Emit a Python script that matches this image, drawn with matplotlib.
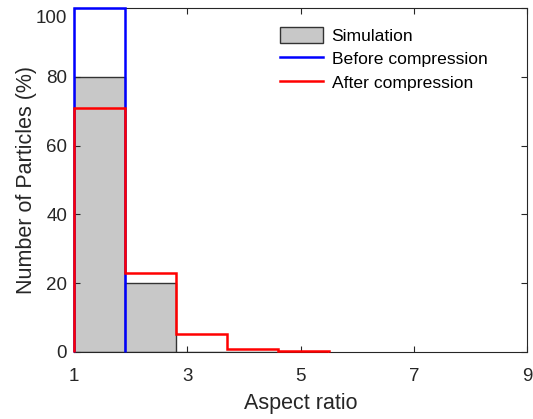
import matplotlib
matplotlib.use("Agg")
import matplotlib.pyplot as plt
import matplotlib.transforms as mtransforms
import numpy as np
from matplotlib.patches import Patch
from matplotlib.lines import Line2D

plt.rcParams['font.family'] = ['Liberation Sans', 'DejaVu Sans']

bin_edges = [1.0, 1.9, 2.8, 3.7, 4.6, 5.5]
simulation = [80.0, 20.0, 0.0, 0.0, 0.0]
before = [100.0, 0.0, 0.0, 0.0, 0.0]
after = [71.0, 23.0, 5.3, 0.8, 0.3]
xticks = [1, 3, 5, 7, 9]
yticks = [0, 20, 40, 60, 80, 100]


def trimmed(values, edges):
    vals = np.asarray(values, dtype=float)
    nz = np.nonzero(vals)[0]
    n = nz[-1] + 1 if len(nz) else len(vals)
    return vals[:n], np.asarray(edges, dtype=float)[:n + 1]


fig = plt.figure(figsize=(5.33, 4.19), dpi=100)
ax = fig.add_axes([0.139, 0.160, 0.850, 0.821])

widths = np.diff(bin_edges)
ax.bar(bin_edges[:-1], simulation, width=widths, align='edge',
       color='#c8c8c8', edgecolor='#333333', linewidth=1.0)
bv, be = trimmed(before, bin_edges)
ax.stairs(bv, be, baseline=0, fill=False, color='#0000ff', linewidth=1.8, clip_on=False, zorder=3)
av, ae = trimmed(after, bin_edges)
ax.stairs(av, ae, baseline=0, fill=False, color='#ff0000', linewidth=1.8, clip_on=False, zorder=3.1)

ax.set_xlim(1, 9)
ax.set_ylim(0, 100)
ax.set_xticks(xticks)
ax.set_xticklabels([str(t) for t in xticks])
ax.set_yticks(yticks)
ax.tick_params(direction='in', top=True, right=True, labelsize=13.5, length=4, width=0.8,
               colors='#262626', labelcolor='#262626')
ax.tick_params(axis='x', pad=11.5)
ax.tick_params(axis='y', pad=5)
for s in ax.spines.values():
    s.set_color('#262626')
    s.set_linewidth(0.8)

# the top y label sits slightly lower in the reference
fig.canvas.draw()
top_lbl = ax.get_yticklabels()[-1]
top_lbl.set_transform(top_lbl.get_transform() +
                      mtransforms.ScaledTranslation(0, -6 / 72, fig.dpi_scale_trans))

ax.set_xlabel('Aspect ratio', fontsize=15.5, color='#262626', labelpad=5.5)
ax.set_ylabel('Number of Particles (%)', fontsize=15.5, color='#262626', labelpad=-1)

handles = [Patch(facecolor='#c8c8c8', edgecolor='#333333', linewidth=1.0),
           Line2D([0], [0], color='#0000ff', linewidth=1.8),
           Line2D([0], [0], color='#ff0000', linewidth=1.8)]
labels = ['Simulation', 'Before compression', 'After compression']
ax.legend(handles, labels, loc='upper left', bbox_to_anchor=(280 / 533, 1 - 27 / 419),
          bbox_transform=fig.transFigure, frameon=False, borderaxespad=0, borderpad=0,
          fontsize=12.6, handlelength=2.45, handleheight=1.0, labelspacing=0.38, handletextpad=0.5)

fig.savefig('out.png', dpi=100)
